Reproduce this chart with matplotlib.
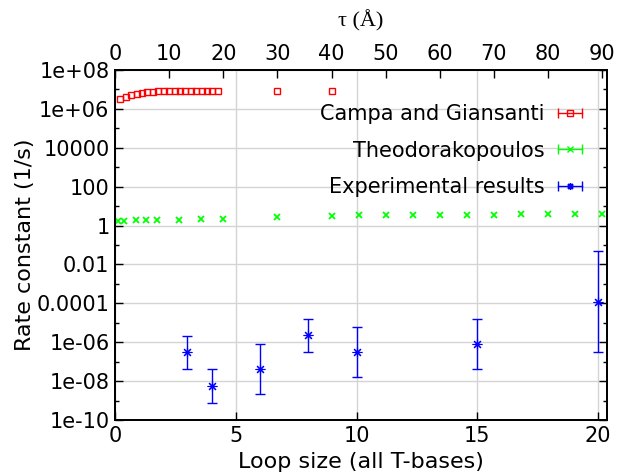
import matplotlib
matplotlib.use('Agg')
import matplotlib.pyplot as plt
from matplotlib.lines import Line2D
from matplotlib.legend_handler import HandlerLine2D, HandlerTuple
from matplotlib.ticker import FixedLocator, FuncFormatter, NullFormatter

# Campa and Giansanti, plotted against tau (top axis)
campa_tau = [1, 2, 3, 4, 5, 6, 7, 8, 9, 10, 11, 12, 13, 14, 15, 16, 17, 18, 19, 30, 40]
campa_k = [3.2e6, 4.3e6, 5.2e6, 6.1e6, 6.9e6, 7.4e6, 7.7e6, 7.9e6, 8.0e6, 8.0e6,
           8.0e6, 8.0e6, 8.0e6, 8.0e6, 8.0e6, 8.0e6, 8.0e6, 8.0e6, 8.0e6, 8.1e6, 8.1e6]

# Theodorakopoulos, plotted against tau (top axis)
theo_tau = [0.6, 1.7, 3.8, 5.8, 7.8, 11.9, 15.9, 19.9, 30, 40, 45, 50, 55, 60, 65, 70, 75, 80, 85, 90]
theo_k = [1.75, 1.78, 1.82, 1.86, 1.9, 2.0, 2.1, 2.2, 2.7, 3.1, 3.35, 3.5, 3.55,
          3.6, 3.65, 3.7, 3.72, 3.75, 3.78, 3.8]

# Experimental results, plotted against loop size (bottom axis)
exp_loop = [3, 4, 6, 8, 10, 15, 20]
exp_k = [3e-7, 5.6e-9, 4.2e-8, 2.3e-6, 3e-7, 8.1e-7, 1.2e-4]
exp_low = [4.2e-8, 7.8e-10, 2.1e-9, 3e-7, 1.6e-8, 4.2e-8, 3e-7]
exp_high = [2.2e-6, 4.1e-8, 8.1e-7, 1.6e-5, 6e-6, 1.6e-5, 0.048]

y_ticks = [1e8, 1e6, 1e4, 1e2, 1, 1e-2, 1e-4, 1e-6, 1e-8, 1e-10]
y_minor = [1e7, 1e5, 1e3, 1e1, 1e-1, 1e-3, 1e-5, 1e-7, 1e-9]

plt.rcParams['font.family'] = ['DejaVu Sans']
plt.rcParams['font.size'] = 15

fig = plt.figure(figsize=(6.18, 4.74), dpi=100)
ax = fig.add_axes([115 / 618, 54 / 474, 492 / 618, 350 / 474])
ax2 = ax.twiny()

ax.set_yscale('log')
ax.set_ylim(1e-10, 1e8)
ax.set_xlim(0, 20.37)
ax2.set_xlim(0, 90.9)

ax.yaxis.set_major_locator(FixedLocator(y_ticks))
ax.yaxis.set_minor_locator(FixedLocator(y_minor))
ax.yaxis.set_major_formatter(FuncFormatter(lambda v, p: '%g' % v))
ax.yaxis.set_minor_formatter(NullFormatter())
ax.set_xticks([0, 5, 10, 15, 20])
ax.xaxis.set_minor_locator(FixedLocator([]))
ax2.set_xticks(list(range(0, 91, 10)))
ax2.xaxis.set_minor_locator(FixedLocator([]))

ax.tick_params(which='both', direction='in', right=True, top=False, labelsize=15, pad=4)
ax.tick_params(which='major', length=6, width=1)
ax.tick_params(which='minor', length=3, width=1)
ax2.tick_params(direction='in', length=6, width=1, labelsize=15, pad=4)

ax.grid(True, which='major', color='#d4d4d4', lw=1)
ax.set_axisbelow(True)
for a in (ax, ax2):
    for s in a.spines.values():
        s.set_linewidth(1.3)

ax.errorbar(exp_loop, exp_k,
            yerr=[[k - lo for k, lo in zip(exp_k, exp_low)],
                  [hi - k for k, hi in zip(exp_k, exp_high)]],
            fmt='none', ecolor='blue', elinewidth=1, capsize=3.5, capthick=1)
ax.plot(exp_loop, exp_k, ls='none', marker=(8, 2, 0), color='blue', ms=7, mew=0.8)

ax2.plot(campa_tau, campa_k, ls='none', marker='s', mfc='none', mec='red', ms=4.5, mew=1)
ax2.plot(theo_tau, theo_k, ls='none', marker='x', color='#00ff00', ms=5, mew=1.3)

ax.set_ylabel('Rate constant (1/s)', fontsize=16, labelpad=1)
ax.set_xlabel('Loop size (all T-bases)', fontsize=16, labelpad=5)
ax2.set_xlabel('\u03c4 (\u00c5)', family=['Liberation Serif'], fontsize=16, labelpad=13)

handles = []
hmap = {}
for c, m, mf in [('red', 's', 'none'), ('#00ff00', 'x', '#00ff00'), ('blue', (8, 2, 0), 'blue')]:
    caps = Line2D([], [], color=c, lw=1, marker='|', ms=7, mew=1)
    mk = Line2D([], [], color=c, ls='none', marker=m, mfc=mf, ms=5, mew=1)
    hmap[mk] = HandlerLine2D(numpoints=1)
    handles.append((caps, mk))
hmap[tuple] = HandlerTuple(ndivide=1, pad=0)
ax2.legend(handles, ['Campa and Giansanti', 'Theodorakopoulos', 'Experimental results'],
           handler_map=hmap, numpoints=2, markerfirst=False, frameon=False,
           loc='upper right', bbox_to_anchor=(588 / 618, 1 - 104 / 474),
           bbox_transform=fig.transFigure, borderaxespad=0, borderpad=0,
           handlelength=1.73, handletextpad=0.34, labelspacing=0.8)

fig.savefig('out.png', dpi=100)
